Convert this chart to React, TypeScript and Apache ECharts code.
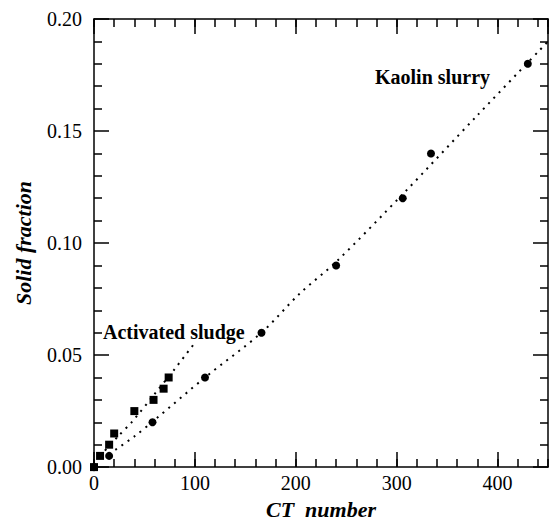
import React, { useEffect, useRef } from "react";
import * as echarts from "echarts";

const kaolinPoints: [number, number][] = [
  [0, 0], [15, 0.005], [58, 0.02], [110, 0.04], [166, 0.06],
  [240, 0.09], [306, 0.12], [334, 0.14], [430, 0.18],
];
const sludgePoints: [number, number][] = [
  [0, 0], [6, 0.005], [15, 0.01], [20, 0.015], [40, 0.025],
  [59, 0.03], [69, 0.035], [74, 0.04],
];
const kaolinFit: [number, number][] = [
  [15, 0.0058], [40, 0.0137], [60, 0.021], [110, 0.04], [166, 0.06],
  [204, 0.0775], [240, 0.0916], [306, 0.1218], [380, 0.157], [450, 0.19],
];
const sludgeFit: [number, number][] = [
  [6, 0.005], [24, 0.0138], [38, 0.0204], [59, 0.032], [80, 0.0438], [100, 0.0555],
];

const FONT = "Liberation Serif";

export default function App() {
  const ref = useRef<HTMLDivElement>(null);
  useEffect(() => {
    if (!ref.current) return;
    const chart = echarts.init(ref.current, null, { renderer: "svg" });
    const lineStyle = { color: "#000", width: 1.5 };
    const majorX = (pos: "bottom" | "top", labels: boolean) => ({
      type: "value" as const,
      position: pos,
      min: 0,
      max: 450,
      interval: 100,
      axisLine: { show: true, onZero: false, lineStyle },
      axisTick: { show: true, inside: true, length: 15, lineStyle },
      axisLabel: {
        show: labels,
        showMaxLabel: false,
        color: "#000",
        fontFamily: FONT,
        fontSize: 20,
        margin: 6,
      },
      splitLine: { show: false },
    });
    const minorX = (pos: "bottom" | "top") => ({
      type: "value" as const,
      position: pos,
      min: 0,
      max: 450,
      interval: 20,
      axisLine: { show: false, onZero: false },
      axisTick: { show: true, inside: true, length: 8, lineStyle },
      axisLabel: { show: false },
      splitLine: { show: false },
    });
    const yAxisDef = (pos: "left" | "right", labels: boolean) => ({
      type: "value" as const,
      position: pos,
      min: 0,
      max: 0.2,
      interval: 0.05,
      axisLine: { show: true, onZero: false, lineStyle },
      axisTick: { show: true, inside: true, length: 15, lineStyle },
      minorTick: { show: true, splitNumber: 5, length: 8, lineStyle },
      axisLabel: {
        show: labels,
        color: "#000",
        fontFamily: FONT,
        fontSize: 20,
        margin: 12,
        formatter: (v: number) => v.toFixed(2),
      },
      splitLine: { show: false },
      minorSplitLine: { show: false },
    });
    const nameStyle = {
      fontFamily: FONT,
      fontSize: 22,
      fontWeight: "bold" as const,
      fontStyle: "italic" as const,
      color: "#000",
    };
    const xMain = {
      ...majorX("bottom", true),
      name: "CT  number",
      nameLocation: "middle" as const,
      nameGap: 28,
      nameTextStyle: nameStyle,
    };
    const yMain = {
      ...yAxisDef("left", true),
      name: "Solid fraction",
      nameLocation: "middle" as const,
      nameGap: 60,
      nameTextStyle: nameStyle,
    };
    const dotted = { color: "#000", width: 2, type: [2, 5.5] as number[], cap: "butt" as const };
    chart.setOption({
      animation: false,
      backgroundColor: "#fff",
      grid: { left: 94, right: 4, top: 19, bottom: 52, containLabel: false },
      xAxis: [xMain, minorX("bottom"), majorX("top", false), minorX("top")],
      yAxis: [yMain, yAxisDef("right", false)],
      series: [
        {
          type: "line",
          name: "Kaolin fit",
          xAxisIndex: 0,
          yAxisIndex: 0,
          data: kaolinFit,
          showSymbol: false,
          smooth: 0.3,
          lineStyle: dotted,
          z: 1,
        },
        {
          type: "line",
          name: "Sludge fit",
          xAxisIndex: 0,
          yAxisIndex: 0,
          data: sludgeFit,
          showSymbol: false,
          smooth: 0.3,
          lineStyle: dotted,
          z: 1,
        },
        {
          type: "scatter",
          name: "Kaolin slurry",
          xAxisIndex: 0,
          yAxisIndex: 0,
          data: kaolinPoints,
          symbol: "circle",
          symbolSize: 8,
          itemStyle: { color: "#000", opacity: 1 },
          z: 3,
        },
        {
          type: "scatter",
          name: "Activated sludge",
          xAxisIndex: 0,
          yAxisIndex: 0,
          data: sludgePoints,
          symbol: "rect",
          symbolSize: 8,
          itemStyle: { color: "#000", opacity: 1 },
          z: 3,
        },
      ],
      graphic: [
        {
          type: "text",
          left: 375,
          top: 67,
          z: 10,
          style: {
            text: "Kaolin slurry",
            fill: "#000",
            font: `bold 20px "${FONT}"`,
          },
        },
        {
          type: "text",
          left: 103,
          top: 322,
          z: 10,
          style: {
            text: "Activated sludge",
            fill: "#000",
            font: `bold 20px "${FONT}"`,
          },
        },
      ],
    });
    return () => chart.dispose();
  }, []);
  return (
    <div
      ref={ref}
      style={{ position: "absolute", left: 0, top: 0, width: 552, height: 525 }}
    />
  );
}
